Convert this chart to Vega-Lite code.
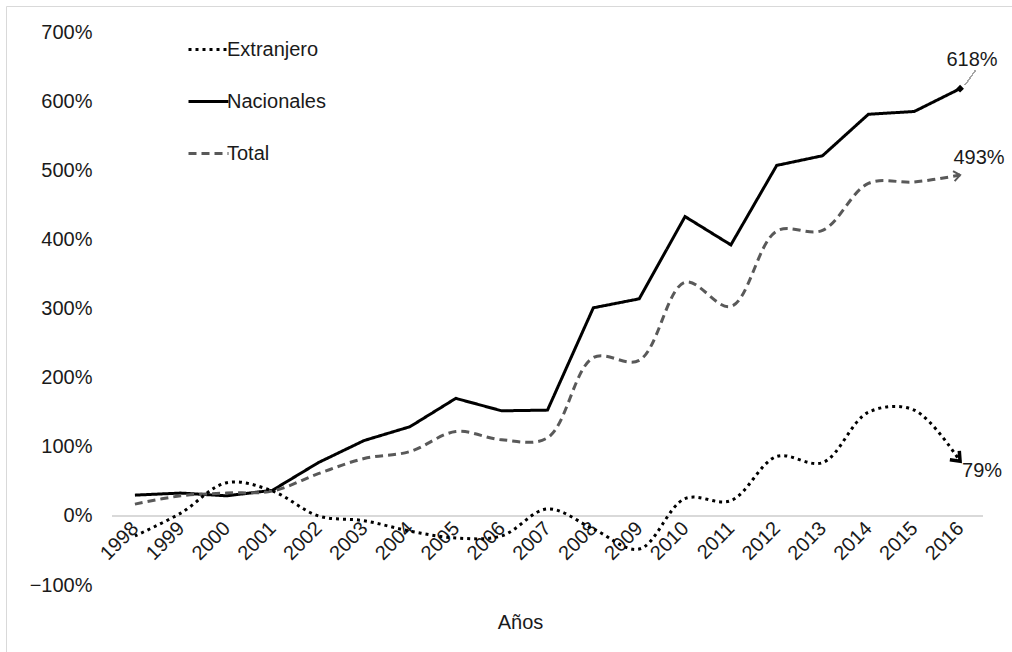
{
  "$schema": "https://vega.github.io/schema/vega-lite/v6.json",
  "autosize": "none",
  "width": 1006,
  "height": 646,
  "padding": {"left": 6, "top": 6, "right": 0, "bottom": 0},
  "background": "white",
  "config": {
    "view": {"stroke": "#d9d9d9", "strokeWidth": 1},
    "font": "Liberation Sans",
    "axis": {"labelFont": "Liberation Sans", "titleFont": "Liberation Sans", "labelColor": "#1a1a1a", "titleColor": "#1a1a1a", "grid": false, "ticks": false, "domain": false, "labelFontSize": 20, "titleFontSize": 20, "titleFontWeight": "normal"},
    "legend": {"labelFont": "Liberation Sans", "labelFontSize": 20, "labelColor": "#1a1a1a"}
  },
  "data": {"values": [
    {"year": 1998, "series": "Nacionales", "value": 0.30},
    {"year": 1999, "series": "Nacionales", "value": 0.33},
    {"year": 2000, "series": "Nacionales", "value": 0.29},
    {"year": 2001, "series": "Nacionales", "value": 0.37},
    {"year": 2002, "series": "Nacionales", "value": 0.77},
    {"year": 2003, "series": "Nacionales", "value": 1.09},
    {"year": 2004, "series": "Nacionales", "value": 1.29},
    {"year": 2005, "series": "Nacionales", "value": 1.70},
    {"year": 2006, "series": "Nacionales", "value": 1.52},
    {"year": 2007, "series": "Nacionales", "value": 1.53},
    {"year": 2008, "series": "Nacionales", "value": 3.01},
    {"year": 2009, "series": "Nacionales", "value": 3.14},
    {"year": 2010, "series": "Nacionales", "value": 4.33},
    {"year": 2011, "series": "Nacionales", "value": 3.92},
    {"year": 2012, "series": "Nacionales", "value": 5.07},
    {"year": 2013, "series": "Nacionales", "value": 5.21},
    {"year": 2014, "series": "Nacionales", "value": 5.81},
    {"year": 2015, "series": "Nacionales", "value": 5.85},
    {"year": 2016, "series": "Nacionales", "value": 6.18},
    {"year": 1998, "series": "Total", "value": 0.17},
    {"year": 1999, "series": "Total", "value": 0.29},
    {"year": 2000, "series": "Total", "value": 0.33},
    {"year": 2001, "series": "Total", "value": 0.36},
    {"year": 2002, "series": "Total", "value": 0.61},
    {"year": 2003, "series": "Total", "value": 0.83},
    {"year": 2004, "series": "Total", "value": 0.93},
    {"year": 2005, "series": "Total", "value": 1.22},
    {"year": 2006, "series": "Total", "value": 1.10},
    {"year": 2007, "series": "Total", "value": 1.13},
    {"year": 2008, "series": "Total", "value": 2.29},
    {"year": 2009, "series": "Total", "value": 2.25},
    {"year": 2010, "series": "Total", "value": 3.38},
    {"year": 2011, "series": "Total", "value": 3.03},
    {"year": 2012, "series": "Total", "value": 4.12},
    {"year": 2013, "series": "Total", "value": 4.13},
    {"year": 2014, "series": "Total", "value": 4.81},
    {"year": 2015, "series": "Total", "value": 4.83},
    {"year": 2016, "series": "Total", "value": 4.93},
    {"year": 1998, "series": "Extranjero", "value": -0.29},
    {"year": 1999, "series": "Extranjero", "value": 0.04},
    {"year": 2000, "series": "Extranjero", "value": 0.48},
    {"year": 2001, "series": "Extranjero", "value": 0.36},
    {"year": 2002, "series": "Extranjero", "value": 0.00},
    {"year": 2003, "series": "Extranjero", "value": -0.07},
    {"year": 2004, "series": "Extranjero", "value": -0.22},
    {"year": 2005, "series": "Extranjero", "value": -0.32},
    {"year": 2006, "series": "Extranjero", "value": -0.29},
    {"year": 2007, "series": "Extranjero", "value": 0.10},
    {"year": 2008, "series": "Extranjero", "value": -0.19},
    {"year": 2009, "series": "Extranjero", "value": -0.48},
    {"year": 2010, "series": "Extranjero", "value": 0.25},
    {"year": 2011, "series": "Extranjero", "value": 0.22},
    {"year": 2012, "series": "Extranjero", "value": 0.86},
    {"year": 2013, "series": "Extranjero", "value": 0.77},
    {"year": 2014, "series": "Extranjero", "value": 1.50},
    {"year": 2015, "series": "Extranjero", "value": 1.53},
    {"year": 2016, "series": "Extranjero", "value": 0.79}
  ]},
  "encoding": {
    "x": {"field": "year", "type": "quantitative",
      "scale": {"domain": [1997.5, 2016.5], "range": [106, 977], "nice": false, "zero": false},
      "axis": {"orient": "bottom", "offset": -137, "values": [1998,1999,2000,2001,2002,2003,2004,2005,2006,2007,2008,2009,2010,2011,2012,2013,2014,2015,2016], "format": "d", "labelAngle": -45, "labelAlign": "right", "labelBaseline": "middle", "labelPadding": 10, "title": "Años", "titleX": 514, "titleY": 107, "titleBaseline": "middle", "labelOverlap": false, "labelBound": false, "labelFlush": false}},
    "y": {"field": "value", "type": "quantitative",
      "scale": {"domain": [-1, 7], "range": [579, 26], "nice": false, "zero": false},
      "axis": {"orient": "left", "offset": -87, "values": [-1,0,1,2,3,4,5,6,7], "format": ".0%", "labelPadding": 1, "title": null}}
  },
  "layer": [
    {
      "mark": {"type": "rule", "color": "#d9d9d9", "strokeWidth": 1.5},
      "encoding": {
        "x": {"datum": 1997.5, "type": "quantitative"},
        "x2": {"datum": 2016.5},
        "y": {"datum": 0, "type": "quantitative"}
      }
    },
    {
      "mark": {"type": "rule", "color": "#a6a6a6", "strokeWidth": 1},
      "encoding": {
        "x": {"datum": 2016.11, "type": "quantitative"},
        "x2": {"datum": 2016.33},
        "y": {"datum": 6.235, "type": "quantitative"},
        "y2": {"datum": 6.44}
      }
    },
    {
      "transform": [{"filter": "datum.series === 'Nacionales'"}],
      "mark": {"type": "line", "strokeWidth": 3, "interpolate": "linear"},
      "encoding": {
        "color": {"field": "series", "type": "nominal", "scale": {"domain": ["Extranjero", "Nacionales", "Total"], "range": ["#000000", "#000000", "#595959"]},
          "legend": {"orient": "none", "legendX": 181, "legendY": 22, "title": null, "symbolType": "stroke", "symbolSize": 1600, "symbolStrokeWidth": 3, "rowPadding": 20, "labelOffset": -3}},
        "strokeDash": {"field": "series", "type": "nominal", "scale": {"domain": ["Extranjero", "Nacionales", "Total"], "range": [[3, 4], [1, 0], [8, 5]]}}
      }
    },
    {
      "transform": [{"filter": "datum.series !== 'Nacionales'"}],
      "mark": {"type": "line", "strokeWidth": 3, "interpolate": "catmull-rom"},
      "encoding": {
        "color": {"field": "series", "type": "nominal"},
        "strokeDash": {"field": "series", "type": "nominal"}
      }
    },
    {
      "transform": [{"filter": "datum.series === 'Nacionales' && datum.year === 2016"}],
      "mark": {"type": "point", "shape": "diamond", "size": 60, "filled": true, "color": "#000000", "opacity": 1}
    },
    {
      "transform": [{"filter": "datum.series === 'Total' && datum.year === 2016"}],
      "mark": {"type": "point", "shape": "M -1 -0.8 L 0 0 L -1 0.8", "size": 160, "filled": false, "color": "#595959", "strokeWidth": 2, "angle": -9, "opacity": 1}
    },
    {
      "transform": [{"filter": "datum.series === 'Extranjero' && datum.year === 2016"}],
      "mark": {"type": "point", "shape": "M -1 -0.8 L 0 0 L -1 0.8", "size": 260, "filled": false, "color": "#000000", "strokeWidth": 3.5, "angle": 47, "opacity": 1}
    },
    {
      "transform": [{"filter": "datum.year === 2016 && datum.series === 'Nacionales'"}],
      "mark": {"type": "text", "fontSize": 20, "color": "#1a1a1a", "dx": 12, "dy": -29},
      "encoding": {"text": {"field": "value", "type": "quantitative", "format": ".0%"}}
    },
    {
      "transform": [{"filter": "datum.year === 2016 && datum.series === 'Total'"}],
      "mark": {"type": "text", "fontSize": 20, "color": "#1a1a1a", "dx": 19, "dy": -17},
      "encoding": {"text": {"field": "value", "type": "quantitative", "format": ".0%"}}
    },
    {
      "transform": [{"filter": "datum.year === 2016 && datum.series === 'Extranjero'"}],
      "mark": {"type": "text", "fontSize": 20, "color": "#1a1a1a", "dx": 22, "dy": 10},
      "encoding": {"text": {"field": "value", "type": "quantitative", "format": ".0%"}}
    }
  ]
}
